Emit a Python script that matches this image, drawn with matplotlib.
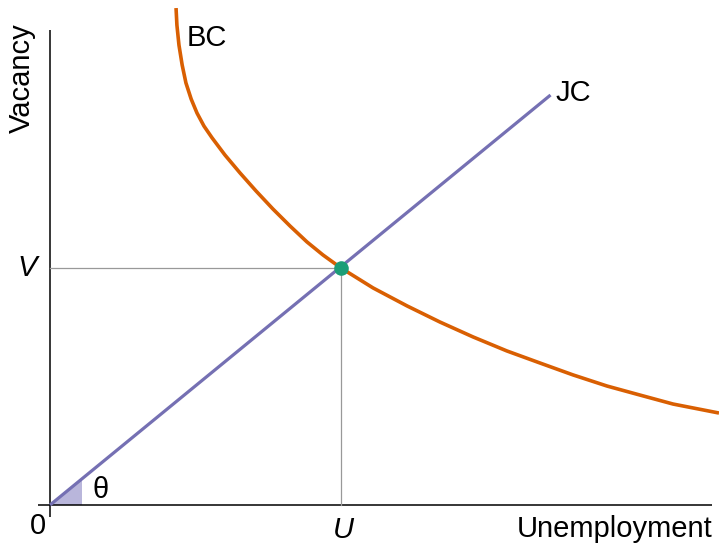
import matplotlib
matplotlib.use("Agg")
import matplotlib.pyplot as plt

plt.rcParams["font.family"] = ["Liberation Sans", "DejaVu Sans"]

# equilibrium point (unemployment, vacancy)
U_eq = 1.0
V_eq = 1.0

# job creation line (through the origin)
jc_u = [0.0, 1.72]
jc_v = [0.0, 1.73]

# Beveridge curve
bc_u = [0.433, 0.436, 0.443, 0.454, 0.467, 0.485, 0.505, 0.529, 0.557, 0.601,
        0.653, 0.708, 0.766, 0.825, 0.883, 0.938, 1.000, 1.110, 1.227, 1.340,
        1.454, 1.570, 1.684, 1.797, 1.914, 2.027, 2.141, 2.299]
bc_v = [2.097, 2.025, 1.941, 1.857, 1.781, 1.713, 1.654, 1.599, 1.549, 1.477,
        1.401, 1.325, 1.249, 1.177, 1.110, 1.055, 1.000, 0.916, 0.840, 0.772,
        0.709, 0.650, 0.599, 0.549, 0.502, 0.464, 0.426, 0.388]

theta_u = 0.11

fig = plt.figure(figsize=(7.19, 5.50), dpi=100)
ax = fig.add_axes([0, 0, 1, 1])
ax.set_xlim(-0.172, 2.299)
ax.set_ylim(-0.190, 2.131)
ax.axis("off")

# axes drawn by hand (with small overhang like the original)
ax.plot([-0.041, 2.275], [0, 0], color="black", lw=1.1, solid_capstyle="butt")
ax.plot([0, 0], [-0.051, 2.004], color="black", lw=1.1, solid_capstyle="butt")

# guide lines to the equilibrium
ax.plot([0, U_eq], [V_eq, V_eq], color="#999999", lw=0.9)
ax.plot([U_eq, U_eq], [0, V_eq], color="#999999", lw=0.9)

# theta wedge
slope = jc_v[1] / jc_u[1]
ax.fill([0, theta_u, theta_u], [0, 0, theta_u * slope], color="#b9b6db", lw=0)

ax.plot(jc_u, jc_v, color="#7570b3", lw=2.3, solid_capstyle="butt")
ax.plot(bc_u, bc_v, color="#d95f02", lw=2.6, solid_capstyle="butt",
        solid_joinstyle="round")
ax.plot([U_eq], [V_eq], "o", color="#1b9e77", ms=10.5, mec="none")

fs = 21
ax.text(0.540, 1.970, "BC", fontsize=fs, ha="center", va="center")
ax.text(1.797, 1.738, "JC", fontsize=fs, ha="center", va="center")
ax.text(0.172, 0.063, "θ", fontsize=fs, ha="center", va="center")
ax.text(-0.079, V_eq, "V", fontsize=fs, style="italic", ha="center", va="center")
ax.text(U_eq + 0.007, -0.105, "U", fontsize=fs, style="italic", ha="center", va="center")
ax.text(-0.041, -0.089, "0", fontsize=fs, ha="center", va="center")
ax.text(2.278, -0.100, "Unemployment", fontsize=fs, ha="right", va="center")
ax.text(-0.096, 1.802, "Vacancy", fontsize=fs, rotation=90, ha="center", va="center")

fig.savefig("out.png", dpi=100)
